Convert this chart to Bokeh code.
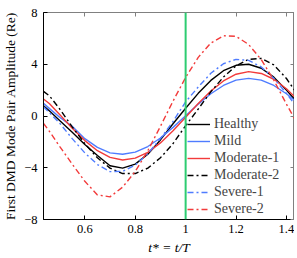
from bokeh.plotting import figure
from bokeh.models import Range1d, LinearAxis, FixedTicker, Span, Legend, LegendItem, CustomJSTickFormatter
from bokeh.embed import file_html
from bokeh.resources import INLINE

# ---- data ----
t = [0.436, 0.46, 0.5, 0.55, 0.6, 0.65, 0.7, 0.75, 0.8, 0.85, 0.9, 0.95,
     1.0, 1.05, 1.1, 1.15, 1.2, 1.25, 1.3, 1.35, 1.4, 1.432]
healthy = [0.80, 0.38, -0.35, -1.25, -2.2, -3.05, -3.85, -4.03, -3.72, -2.95, -1.85, -0.6,
           0.6, 1.75, 2.75, 3.5, 3.92, 4.0, 3.69, 3.0, 2.0, 1.3]
mild = [0.98, 0.57, -0.1, -0.8, -1.75, -2.42, -2.85, -2.96, -2.79, -2.36, -1.70, -0.88,
        0.02, 0.92, 1.72, 2.36, 2.77, 2.91, 2.77, 2.36, 1.72, 1.22]
moderate1 = [1.31, 0.95, 0.12, -0.94, -1.90, -2.68, -3.20, -3.40, -3.26, -2.81, -2.08, -1.14,
             -0.09, 0.97, 1.93, 2.71, 3.23, 3.43, 3.29, 2.84, 2.11, 1.5]
moderate2 = [1.9, 1.55, 0.55, -0.84, -2.13, -3.23, -4.03, -4.45, -4.45, -4.03, -3.23, -2.13,
             -0.75, 0.54, 1.87, 3.01, 3.88, 4.38, 4.45, 3.95, 2.9, 2.0]
severe1 = [0.72, 0.25, -0.55, -1.75, -2.85, -3.75, -4.3, -4.28, -3.79, -2.91, -1.75, -0.42,
           1.1, 2.24, 3.3, 4.04, 4.38, 4.3, 3.79, 2.91, 1.75, 0.91]
severe2 = [-0.57, -1.2, -2.35, -3.72, -5.05, -6.1, -6.25, -5.50, -4.29, -2.68, -0.80, 1.15,
           2.98, 4.53, 5.64, 6.2, 6.16, 5.53, 4.36, 2.77, 0.92, -0.2]

series_names = ["Healthy", "Mild", "Moderate-1", "Moderate-2", "Severe-1", "Severe-2"]
series_values = [healthy, mild, moderate1, moderate2, severe1, severe2]
series_colors = ["black", "#4f7cff", "#f23b3b", "black", "#4f7cff", "#f23b3b"]
series_dash = ["solid", "solid", "solid", "6 3 2 3", "6 3 2 3", "6 3 2 3"]

x_ticks = [0.6, 0.8, 1.0, 1.2, 1.4]
x_tick_labels = ["0.6", "0.8", "1", "1.2", "1.4"]
y_ticks = [-8, -4, 0, 4, 8]
y_tick_labels = ["\u22128", "\u22124", "0", "4", "8"]
marker_t = 1.0

FONT = "Liberation Serif"

p = figure(width=294, height=257,
           x_range=Range1d(0.436, 1.432), y_range=Range1d(-8, 8),
           output_backend="svg", toolbar_location=None,
           min_border_left=38, min_border_right=0, min_border_top=12, min_border_bottom=38)
p.grid.visible = False
p.background_fill_color = "white"
p.outline_line_color = "#808080"
p.outline_line_width = 1

items = []
for name, vals, col, dash in zip(series_names, series_values, series_colors, series_dash):
    r = p.line(t, vals, line_color=col, line_width=1.4, line_dash=dash)
    items.append(LegendItem(label=name, renderers=[r]))

p.add_layout(Span(location=marker_t, dimension="height", line_color="#2ecc71", line_width=2))

def style_axis(ax, ticks, labels, show_labels, color):
    ax.ticker = FixedTicker(ticks=ticks)
    ax.major_tick_in = 4
    ax.major_tick_out = 0
    ax.minor_tick_line_color = None
    ax.axis_line_color = color
    ax.major_tick_line_color = color
    if show_labels:
        ax.major_label_overrides = {k: v for k, v in zip(ticks, labels)}
        ax.major_label_text_font = FONT
        ax.major_label_text_font_size = "12.5px"
        ax.major_label_text_color = "black"
        ax.axis_label_text_font = FONT
        ax.axis_label_text_font_size = "13.5px"
        ax.axis_label_text_font_style = "normal"
        ax.axis_label_text_color = "black"
    else:
        ax.formatter = CustomJSTickFormatter(code="return ''")
        ax.major_label_standoff = 0

xa = p.xaxis[0]
ya = p.yaxis[0]
style_axis(xa, x_ticks, x_tick_labels, True, "black")
style_axis(ya, y_ticks, y_tick_labels, True, "black")
xa.axis_label = "t* = t/T"
xa.axis_label_text_font_style = "italic"
xa.major_label_standoff = 5
xa.axis_label_standoff = 4
ya.axis_label = "First DMD Mode Pair Amplitude (Re)"
ya.major_label_standoff = 6
ya.axis_label_standoff = 3

top = LinearAxis()
style_axis(top, x_ticks, x_tick_labels, False, "#808080")
p.add_layout(top, "above")
right = LinearAxis()
style_axis(right, y_ticks, y_tick_labels, False, "#808080")
p.add_layout(right, "right")

legend = Legend(items=items, location=(144, 2))
legend.label_text_font = FONT
legend.label_text_font_size = "14px"
legend.glyph_width = 23
legend.glyph_height = 16
legend.label_height = 16
legend.spacing = 1
legend.padding = 2
legend.margin = 0
legend.label_standoff = 4
legend.border_line_color = None
legend.background_fill_alpha = 0
p.add_layout(legend)

open("out.html", "w").write(file_html(p, INLINE))
